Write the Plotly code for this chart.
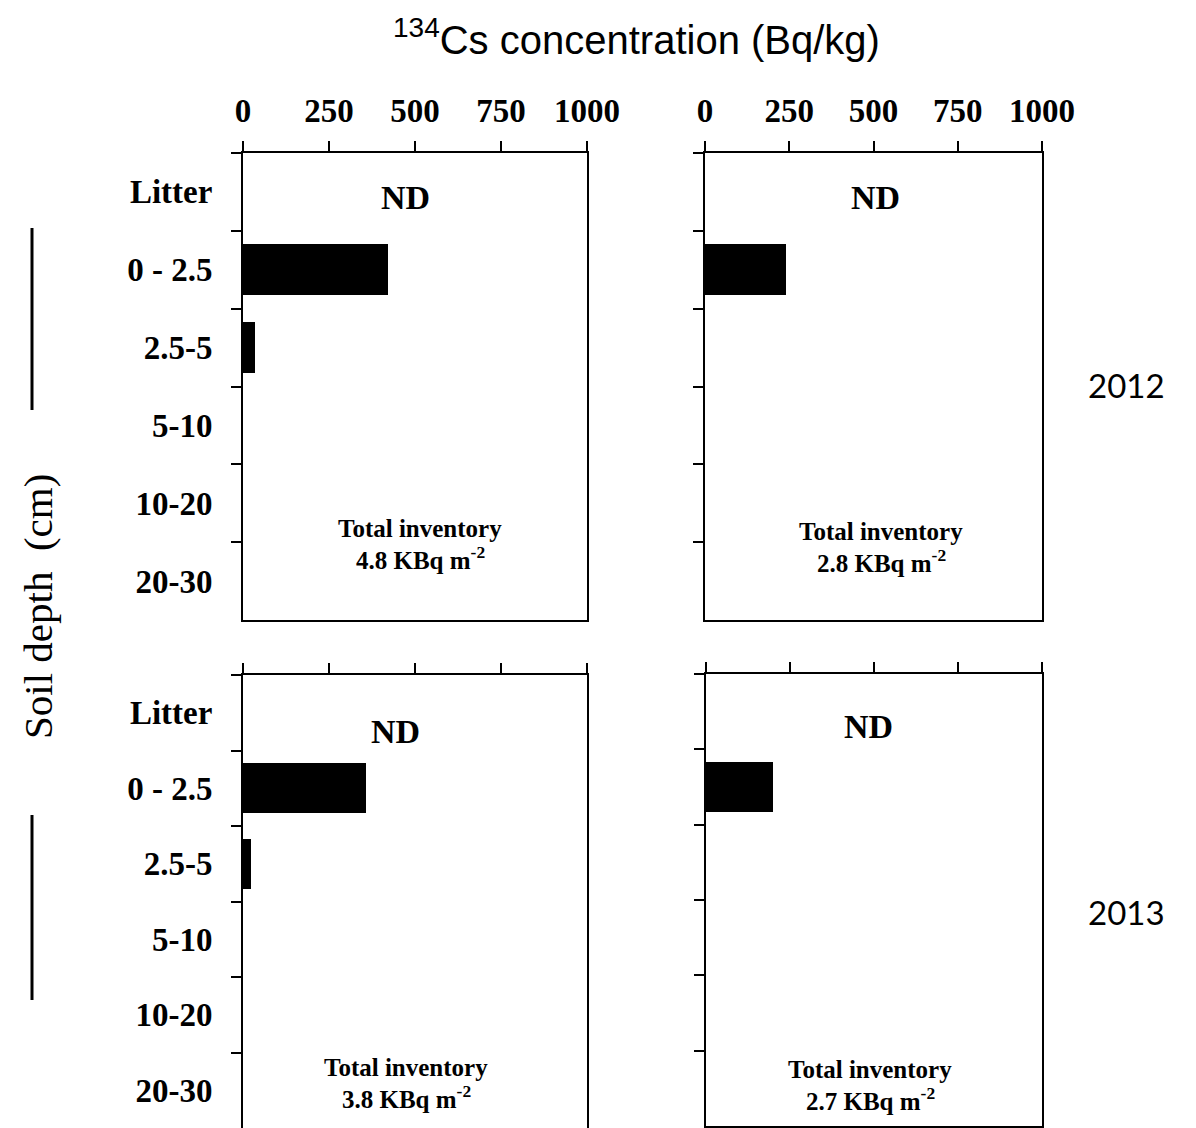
import plotly.graph_objects as go

W, H = 1196, 1128

depths = ["Litter", "0 - 2.5", "2.5-5", "5-10", "10-20", "20-30"]
x_ticks = [0, 250, 500, 750, 1000]

# 134Cs concentration (Bq/kg); None = not detected
site_a_2012 = [None, 421, 35, 0, 0, 0]
site_b_2012 = [None, 240, 0, 0, 0, 0]
site_a_2013 = [None, 358, 23, 0, 0, 0]
site_b_2013 = [None, 199, 0, 0, 0, 0]

inventory = ["4.8", "2.8", "3.8", "2.7"]
years = ["2012", "2013"]


def px(x):
    return x / W


def py(y):
    return 1 - y / H


panels = [
    dict(vals=site_a_2012, xd=[px(243), px(587)], yd=[py(620), py(153)], labels=True, xlabels=True, bottom=True),
    dict(vals=site_b_2012, xd=[px(705), px(1042)], yd=[py(620), py(153)], labels=False, xlabels=True, bottom=True),
    dict(vals=site_a_2013, xd=[px(243), px(587)], yd=[0.0, py(675)], labels=True, xlabels=False, bottom=False),
    dict(vals=site_b_2013, xd=[px(706), px(1042)], yd=[py(1126), py(674)], labels=False, xlabels=False, bottom=True),
]

fig = go.Figure()
layout = {}
serif = "Liberation Serif, Times New Roman, serif"

for i, p in enumerate(panels):
    n = i + 1
    xa = "x" if n == 1 else f"x{n}"
    ya = "y" if n == 1 else f"y{n}"
    fig.add_trace(go.Bar(
        x=p["vals"], y=depths, orientation="h",
        xaxis=xa, yaxis=ya, width=0.66,
        marker=dict(color="black", line=dict(width=0)),
        showlegend=False,
    ))
    layout[f"xaxis{'' if n == 1 else n}"] = dict(
        domain=p["xd"], anchor=ya, side="top", range=[0, 1000],
        tickvals=x_ticks, ticktext=[str(v) for v in x_ticks],
        ticks="outside", ticklen=10, tickwidth=2, tickcolor="black",
        showline=True, linecolor="black", linewidth=2,
        mirror=p["bottom"], showgrid=False, zeroline=False,
        showticklabels=p["xlabels"], ticklabelstandoff=6,
        tickfont=dict(family=serif, size=33, color="black", weight="bold"),
        fixedrange=True, automargin=False,
    )
    layout[f"yaxis{'' if n == 1 else n}"] = dict(
        domain=p["yd"], anchor=xa, type="category",
        categoryorder="array", categoryarray=depths,
        range=[5.5, -0.5], tickson="boundaries",
        ticks="outside", ticklen=10, tickwidth=2, tickcolor="black",
        showline=True, linecolor="black", linewidth=2, mirror=True,
        showgrid=False, zeroline=False,
        showticklabels=p["labels"], ticklabelstandoff=22,
        tickfont=dict(family=serif, size=33, color="black", weight="bold"),
        fixedrange=True, automargin=False,
    )

annotations = []


def ann(text, x, y, size, family=serif, bold=True, angle=0):
    annotations.append(dict(
        text=text, x=px(x), y=py(y), xref="paper", yref="paper",
        showarrow=False, xanchor="center", yanchor="middle", textangle=angle,
        font=dict(family=family, size=size, color="black", weight="bold" if bold else "normal"),
    ))


# ND labels
for (x, y) in [(405, 198), (875, 198), (395, 731), (868, 727)]:
    ann("ND", x, y, 34)

# Inventory labels
inv_pos = [(420, 528), (881, 531), (406, 1067), (870, 1069)]
for val, (x, y) in zip(inventory, inv_pos):
    ann("Total inventory", x, y, 25)
    ann(f"{val} KBq m<sup>-2</sup>", x, y + 30, 25)

# Axis title
ann("<sup>134</sup>Cs concentration (Bq/kg)", 636, 37, 40,
    family="Liberation Sans, Arial, sans-serif", bold=False)
ann("Soil depth  (cm)", 38, 607, 41, bold=False, angle=-90)

# Year labels
ann(years[0], 1126, 385, 33, family="Lato, sans-serif", bold=False)
ann(years[1], 1126, 912, 33, family="Lato, sans-serif", bold=False)

shapes = [
    dict(type="line", xref="paper", yref="paper", x0=px(32), x1=px(32), y0=py(228), y1=py(410),
         line=dict(color="black", width=3)),
    dict(type="line", xref="paper", yref="paper", x0=px(32), x1=px(32), y0=py(815), y1=py(1000),
         line=dict(color="black", width=3)),
]

fig.update_layout(
    width=W, height=H, margin=dict(l=0, r=0, t=0, b=0, pad=0),
    paper_bgcolor="white", plot_bgcolor="white", autosize=False,
    annotations=annotations, shapes=shapes, bargap=0,
    **layout,
)

fig.write_html("out.html", config={"displayModeBar": False})
